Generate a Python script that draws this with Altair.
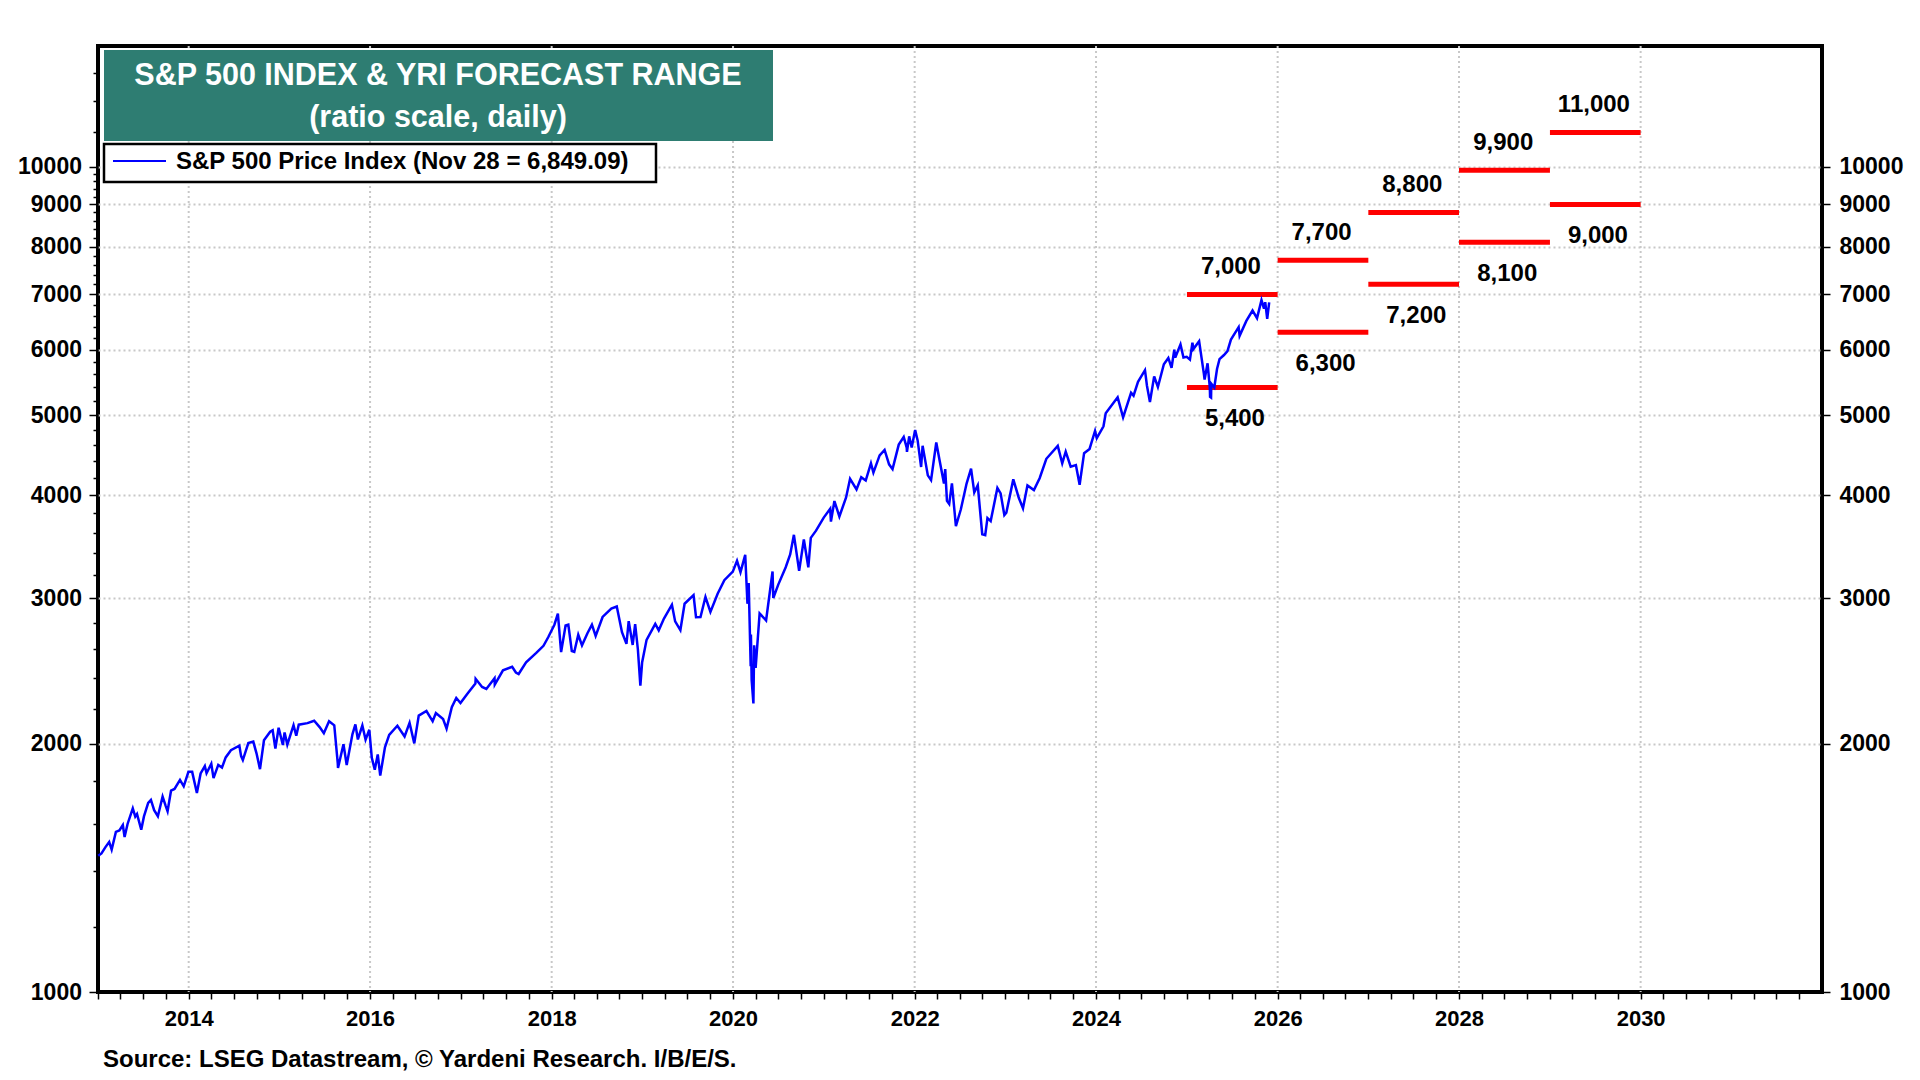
import pandas as pd
import altair as alt

# S&P 500 daily closes (key turning points)
dates = [
    "2013-01-02", "2013-01-15", "2013-01-31", "2013-02-15", "2013-02-25", "2013-03-14", "2013-03-28",
    "2013-04-11", "2013-04-18", "2013-04-30", "2013-05-21", "2013-05-31", "2013-06-07", "2013-06-24",
    "2013-07-05", "2013-07-22", "2013-08-02", "2013-08-15", "2013-08-30", "2013-09-18", "2013-09-30",
    "2013-10-08", "2013-10-22", "2013-11-05", "2013-11-27", "2013-12-12", "2013-12-31",
    "2014-01-15", "2014-02-03", "2014-02-18", "2014-03-07", "2014-03-14", "2014-04-02", "2014-04-11",
    "2014-04-30", "2014-05-15", "2014-05-30", "2014-06-20", "2014-07-24", "2014-07-31", "2014-08-07",
    "2014-08-29", "2014-09-18", "2014-10-01", "2014-10-15", "2014-10-31", "2014-11-25", "2014-12-05",
    "2014-12-16", "2014-12-29",
    "2015-01-15", "2015-01-22", "2015-02-02", "2015-02-27", "2015-03-10", "2015-03-20", "2015-04-24",
    "2015-05-21", "2015-06-12", "2015-06-29", "2015-07-20", "2015-08-10", "2015-08-24", "2015-08-25",
    "2015-09-16", "2015-09-29", "2015-10-22", "2015-11-03", "2015-11-13", "2015-12-01", "2015-12-14",
    "2015-12-29",
    "2016-01-08", "2016-01-20", "2016-02-01", "2016-02-11", "2016-03-01", "2016-03-18", "2016-04-20",
    "2016-05-19", "2016-06-08", "2016-06-27", "2016-07-15", "2016-08-15", "2016-09-09", "2016-09-22",
    "2016-10-21", "2016-11-04", "2016-11-25", "2016-12-13", "2016-12-30",
    "2017-01-26", "2017-02-28", "2017-03-01", "2017-03-27", "2017-04-13", "2017-05-16", "2017-05-17",
    "2017-06-19", "2017-07-26", "2017-08-10", "2017-08-21", "2017-09-20", "2017-10-31", "2017-11-29",
    "2017-12-18",
    "2018-01-12", "2018-01-26", "2018-02-08", "2018-02-26", "2018-03-09", "2018-03-23", "2018-04-02",
    "2018-04-18", "2018-05-03", "2018-05-25", "2018-06-12", "2018-06-27", "2018-07-25", "2018-08-29",
    "2018-09-20", "2018-10-11", "2018-10-29", "2018-11-07", "2018-11-23", "2018-12-03", "2018-12-14",
    "2018-12-24", "2018-12-31",
    "2019-01-18", "2019-02-22", "2019-03-08", "2019-03-29", "2019-04-30", "2019-05-13", "2019-06-03",
    "2019-06-20", "2019-07-26", "2019-08-05", "2019-08-23", "2019-09-12", "2019-10-02", "2019-10-31",
    "2019-11-27", "2019-12-31",
    "2020-01-17", "2020-01-31", "2020-02-19", "2020-02-28", "2020-03-03", "2020-03-04", "2020-03-12",
    "2020-03-13", "2020-03-16", "2020-03-23", "2020-03-26", "2020-04-01", "2020-04-17", "2020-05-13",
    "2020-06-08", "2020-06-11", "2020-07-01", "2020-07-31", "2020-08-18", "2020-09-02", "2020-09-23",
    "2020-10-12", "2020-10-30", "2020-11-09", "2020-11-30", "2020-12-31",
    "2021-01-26", "2021-01-29", "2021-02-12", "2021-03-04", "2021-03-31", "2021-04-16", "2021-05-12",
    "2021-05-31", "2021-06-18", "2021-07-09", "2021-07-19", "2021-08-13", "2021-09-02", "2021-09-20",
    "2021-10-04", "2021-10-29", "2021-11-18", "2021-11-30", "2021-12-01", "2021-12-10", "2021-12-20",
    "2022-01-03", "2022-01-13", "2022-01-27", "2022-02-02", "2022-02-23", "2022-03-08", "2022-03-29",
    "2022-04-12", "2022-04-29", "2022-05-04", "2022-05-11", "2022-05-20", "2022-05-31", "2022-06-16",
    "2022-07-06", "2022-07-29", "2022-08-16", "2022-08-29", "2022-09-12", "2022-09-30", "2022-10-12",
    "2022-10-21", "2022-11-03", "2022-11-30", "2022-12-13", "2022-12-28",
    "2023-01-05", "2023-02-02", "2023-02-24", "2023-03-13", "2023-03-31", "2023-04-26", "2023-05-19",
    "2023-06-15", "2023-07-31", "2023-08-18", "2023-09-01", "2023-09-21", "2023-10-12", "2023-10-27",
    "2023-11-14", "2023-12-06", "2023-12-28",
    "2024-01-04", "2024-01-31", "2024-02-09", "2024-03-28", "2024-04-19", "2024-05-21", "2024-05-31",
    "2024-06-18", "2024-07-16", "2024-07-24", "2024-08-05", "2024-08-22", "2024-09-06", "2024-09-30",
    "2024-10-18", "2024-10-31", "2024-11-11", "2024-11-15", "2024-12-06", "2024-12-18", "2024-12-31",
    "2025-01-13", "2025-01-23", "2025-01-27", "2025-02-19", "2025-03-10", "2025-03-13", "2025-03-25",
    "2025-04-03", "2025-04-04", "2025-04-08", "2025-04-09", "2025-04-21", "2025-05-02", "2025-05-12",
    "2025-05-30", "2025-06-13", "2025-06-27", "2025-07-28", "2025-08-01", "2025-08-28", "2025-09-22",
    "2025-10-10", "2025-10-28", "2025-11-07", "2025-11-12", "2025-11-20", "2025-11-28",
]
sp500 = [
    1462, 1472, 1498, 1520, 1488, 1563, 1569,
    1593, 1541, 1598, 1669, 1631, 1643, 1573,
    1632, 1695, 1709, 1661, 1633, 1725, 1682,
    1656, 1754, 1762, 1807, 1775, 1848,
    1848, 1742, 1840, 1878, 1841, 1890, 1816,
    1884, 1870, 1924, 1963, 1988, 1931, 1910,
    2003, 2011, 1946, 1862, 2018, 2067, 2075,
    1972, 2090,
    1992, 2063, 1994, 2105, 2044, 2108, 2117,
    2131, 2094, 2058, 2128, 2104, 1893, 1868,
    1996, 1884, 2052, 2110, 2023, 2103, 2022,
    2078,
    1922, 1859, 1940, 1829, 1979, 2049, 2102,
    2040, 2119, 2001, 2162, 2190, 2128, 2177,
    2141, 2085, 2213, 2271, 2239,
    2297, 2364, 2396, 2342, 2329, 2400, 2357,
    2453, 2477, 2438, 2428, 2508, 2575, 2627,
    2690,
    2786, 2873, 2581, 2780, 2787, 2588, 2582,
    2709, 2630, 2721, 2787, 2700, 2847, 2914,
    2931, 2728, 2641, 2814, 2633, 2790, 2600,
    2351, 2507,
    2671, 2793, 2743, 2834, 2946, 2812, 2744,
    2954, 3026, 2845, 2847, 3010, 2887, 3038,
    3154, 3231,
    3330, 3226, 3386, 2954, 3003, 3130, 2481,
    2711, 2386, 2237, 2630, 2470, 2875, 2820,
    3232, 3002, 3116, 3271, 3390, 3580, 3237,
    3534, 3270, 3550, 3622, 3756,
    3850, 3714, 3934, 3768, 3973, 4185, 4063,
    4204, 4166, 4370, 4258, 4468, 4537, 4358,
    4300, 4605, 4704, 4567, 4513, 4712, 4568,
    4797, 4659, 4326, 4589, 4226, 4170, 4632,
    4397, 4132, 4300, 3935, 3901, 4132, 3667,
    3845, 4130, 4305, 4031, 4110, 3586, 3577,
    3752, 3720, 4080, 4019, 3783,
    3808, 4179, 3970, 3855, 4109, 4056, 4192,
    4426, 4589, 4370, 4516, 4330, 4349, 4117,
    4496, 4549, 4783,
    4688, 4846, 5026, 5254, 4967, 5321, 5278,
    5487, 5667, 5427, 5186, 5570, 5408, 5762,
    5864, 5705, 6001, 5870, 6090, 5872, 5882,
    5836, 6119, 6012, 6144, 5614, 5521, 5777,
    5396, 5260, 5250, 5457, 5400, 5686, 5844,
    5912, 5977, 6173, 6389, 6238, 6502, 6693,
    6553, 6890, 6729, 6851, 6538, 6849,
]

# YRI forecast range, one bar pair per year
forecast_years = [2025, 2026, 2027, 2028, 2029]
forecast_high = [7000, 7700, 8800, 9900, 11000]
forecast_low = [5400, 6300, 7200, 8100, 9000]

title_line1 = "S&P 500 INDEX & YRI FORECAST RANGE"
title_line2 = "(ratio scale, daily)"
legend_label = "S&P 500 Price Index (Nov 28 = 6,849.09)"
source_note = "Source: LSEG Datastream, \u00a9 Yardeni Research. I/B/E/S."

y_major = [1000, 2000, 3000, 4000, 5000, 6000, 7000, 8000, 9000, 10000]
y_all_ticks = list(range(1000, 10001, 200)) + [11000, 12000, 13000]
x_ticks = [alt.DateTime(year=y, month=m, date=1) for y in range(2013, 2032) for m in (1, 4, 7, 10)]
x_grid_years = [2014, 2016, 2018, 2020, 2022, 2024, 2026, 2028, 2030]

FONT = "Liberation Sans"
GRID = "#c8c8c8"

df = pd.DataFrame({"date": pd.to_datetime(dates), "close": sp500})

rows = []
for yr, hi, lo in zip(forecast_years, forecast_high, forecast_low):
    for kind, val in (("high", hi), ("low", lo)):
        rows.append({"start": pd.Timestamp(f"{yr}-01-01"), "end": pd.Timestamp(f"{yr + 1}-01-01"),
                     "mid": pd.Timestamp(f"{yr}-07-01"), "value": val, "kind": kind})
fc = pd.DataFrame(rows)
grid_df = pd.DataFrame({"g": pd.to_datetime([f"{y}-01-01" for y in x_grid_years])})

x_scale = alt.Scale(domain=[alt.DateTime(year=2013, month=1, date=1),
                            alt.DateTime(year=2032, month=1, date=1)], nice=False)
y_scale = alt.Scale(type="log", domain=[1000, 14000], nice=False)

x_axis = alt.Axis(
    values=x_ticks, title=None, domain=False, grid=False, labelOverlap=False, labelFlush=False,
    labelExpr="month(datum.value) == 0 && year(datum.value) % 2 == 0 ? '' + year(datum.value) : ''",
    labelFont=FONT, labelFontSize=22, labelFontWeight="bold", labelColor="black", labelPadding=9,
    tickColor="black", tickWidth=1.5, tickSize=7,
)

y_left_axis = alt.Axis(
    orient="left", values=y_all_ticks, title=None, domain=False, labelOverlap=False,
    labelExpr="datum.value % 1000 == 0 && datum.value <= 10000 ? '' + datum.value : ''",
    labelFont=FONT, labelFontSize=23, labelFontWeight="bold", labelColor="black", labelPadding=7.5,
    tickColor="black", tickWidth=1.5,
    tickSize={"condition": {"test": "datum.value % 1000 == 0 && datum.value <= 10000", "value": 9},
              "value": 5},
    grid=True, gridColor=GRID, gridDash=[2, 3], gridWidth=2,
    gridOpacity={"condition": {"test": "datum.value % 1000 == 0 && datum.value > 1000 && datum.value <= 10000",
                               "value": 1}, "value": 0},
)

y_right = alt.Y("value:Q", scale=y_scale, axis=alt.Axis(
    orient="right", values=y_major, title=None, domain=False, grid=False, format="d",
    labelFont=FONT, labelFontSize=23, labelFontWeight="bold", labelColor="black", labelPadding=9,
    tickColor="black", tickWidth=1.5, tickSize=8, labelOverlap=False))

# vertical gridlines every other year
vgrid = alt.Chart(grid_df).mark_rule(color=GRID, strokeDash=[2, 3], strokeWidth=2).encode(
    x=alt.X("g:T", scale=x_scale, axis=x_axis))

# forecast bars + labels (right axis)
bars = alt.Chart(fc).mark_rule(color="#ff0000", strokeWidth=5).encode(
    x=alt.X("start:T", scale=x_scale, axis=x_axis), x2="end:T", y=y_right)
hi_lbl = alt.Chart(fc).transform_filter("datum.kind == 'high'").mark_text(
    font=FONT, fontSize=24, fontWeight="bold", color="black", dy=-27, dx=-1).encode(
    x=alt.X("mid:T", scale=x_scale, axis=x_axis), y=y_right, text=alt.Text("value:Q", format=","))
lo_lbl = alt.Chart(fc).transform_filter("datum.kind == 'low'").mark_text(
    font=FONT, fontSize=24, fontWeight="bold", color="black", dy=32, dx=3).encode(
    x=alt.X("mid:T", scale=x_scale, axis=x_axis), y=y_right, text=alt.Text("value:Q", format=","))
forecast = alt.layer(bars, hi_lbl, lo_lbl)

# index line (left axis)
line = alt.Chart(df).mark_line(color="#0000ff", strokeWidth=2.5).encode(
    x=alt.X("date:T", scale=x_scale, axis=x_axis),
    y=alt.Y("close:Q", scale=y_scale, axis=y_left_axis),
)

one = pd.DataFrame({"t1": [title_line1], "t2": [title_line2], "lg": [legend_label], "src": [source_note]})
title_box = alt.Chart(one).mark_rect(color="#2e7d72").encode(
    x=alt.value(6), x2=alt.value(675), y=alt.value(4), y2=alt.value(95))
title1 = alt.Chart(one).mark_text(font=FONT, fontSize=30.5, fontWeight="bold", color="white").encode(
    x=alt.value(340), y=alt.value(30), text="t1:N")
title2 = alt.Chart(one).mark_text(font=FONT, fontSize=30.5, fontWeight="bold", color="white").encode(
    x=alt.value(340), y=alt.value(72), text="t2:N")
legend_box = alt.Chart(one).mark_rect(fill="white", stroke="black", strokeWidth=2.5).encode(
    x=alt.value(6), x2=alt.value(558), y=alt.value(98), y2=alt.value(136))
legend_line = alt.Chart(one).mark_rule(color="#0000ff", strokeWidth=2).encode(
    x=alt.value(15), x2=alt.value(68), y=alt.value(115))
legend_text = alt.Chart(one).mark_text(font=FONT, fontSize=24, fontWeight="bold", color="black",
                                       align="left", baseline="middle").encode(
    x=alt.value(78), y=alt.value(116), text="lg:N")
source = alt.Chart(one).mark_text(font=FONT, fontSize=24, fontWeight="bold", color="black",
                                  align="left", baseline="middle").encode(
    x=alt.value(5), y=alt.value(1014), text="src:N")

index_layer = alt.layer(line, title_box, title1, title2, legend_box, legend_line, legend_text, source)

chart = alt.layer(vgrid, forecast, index_layer).resolve_scale(y="independent").properties(
    width=1724, height=946,
    autosize=alt.AutoSizeParams(type="none"),
    padding={"left": 90, "top": 38, "right": 90, "bottom": 80},
    background="white",
).configure_view(stroke="black", strokeWidth=4)

chart.save("out.html", embed_options={"renderer": "svg", "actions": False})
